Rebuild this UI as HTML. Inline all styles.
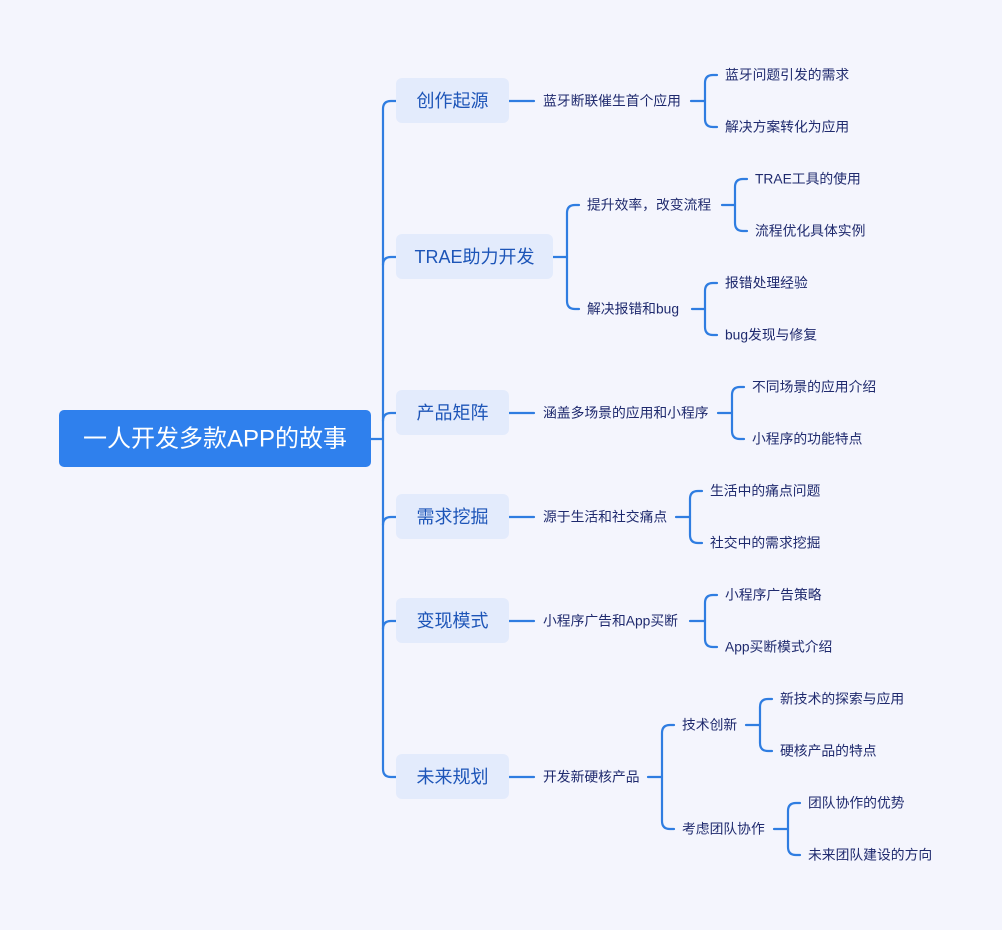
<!DOCTYPE html>
<html><head><meta charset="utf-8"><style>
html,body{margin:0;padding:0;background:#f4f5fd;}
svg{display:block}
text{font-family:"Liberation Sans","Noto Sans CJK SC",sans-serif;}
.s{font-size:13.8px;fill:#1f2a6e;}
.b{font-size:18px;fill:#1d55b8;}
</style></head><body>
<svg width="1002" height="930" viewBox="0 0 1002 930" xmlns="http://www.w3.org/2000/svg">
<rect width="1002" height="930" fill="#f4f5fd"/>
<g fill="none" stroke="#2f7de1" stroke-width="2.2" stroke-linecap="round">
<path d="M371 439 H383"/>
<path d="M396 101 H391 Q383 101 383 109 V769 Q383 777 391 777 H396"/>
<path d="M396 257 H391 Q383 257 383 265"/>
<path d="M396 413 H391 Q383 413 383 421"/>
<path d="M396 517 H391 Q383 517 383 525"/>
<path d="M396 621 H391 Q383 621 383 629"/>
<path d="M509 101 H534"/>
<path d="M691 101 H705"/>
<path d="M717 75 H713 Q705 75 705 83 V119 Q705 127 713 127 H717"/>
<path d="M553 257 H567"/>
<path d="M579 205 H575 Q567 205 567 213 V301 Q567 309 575 309 H579"/>
<path d="M722 205 H735"/>
<path d="M747 179 H743 Q735 179 735 187 V223 Q735 231 743 231 H747"/>
<path d="M692 309 H705"/>
<path d="M717 283 H713 Q705 283 705 291 V327 Q705 335 713 335 H717"/>
<path d="M509 413 H534"/>
<path d="M718 413 H732"/>
<path d="M744 387 H740 Q732 387 732 395 V431 Q732 439 740 439 H744"/>
<path d="M509 517 H534"/>
<path d="M676 517 H690"/>
<path d="M702 491 H698 Q690 491 690 499 V535 Q690 543 698 543 H702"/>
<path d="M509 621 H534"/>
<path d="M690 621 H705"/>
<path d="M717 595 H713 Q705 595 705 603 V639 Q705 647 713 647 H717"/>
<path d="M509 777 H534"/>
<path d="M648 777 H662"/>
<path d="M674 725 H670 Q662 725 662 733 V821 Q662 829 670 829 H674"/>
<path d="M746 725 H760"/>
<path d="M772 699 H768 Q760 699 760 707 V743 Q760 751 768 751 H772"/>
<path d="M774 829 H788"/>
<path d="M800 803 H796 Q788 803 788 811 V847 Q788 855 796 855 H800"/>
</g>
<rect x="59" y="410" width="312" height="57" rx="5" fill="#2f80ed"/>
<text x="215" y="439" text-anchor="middle" dominant-baseline="central" font-size="24" fill="#fff">一人开发多款APP的故事</text>
<g fill="#e3ebfc">
<rect x="396" y="78" width="113" height="45" rx="6"/>
<rect x="396" y="234" width="157" height="45" rx="6"/>
<rect x="396" y="390" width="113" height="45" rx="6"/>
<rect x="396" y="494" width="113" height="45" rx="6"/>
<rect x="396" y="598" width="113" height="45" rx="6"/>
<rect x="396" y="754" width="113" height="45" rx="6"/>
</g>
<g dominant-baseline="central" text-anchor="middle">
<text x="452.5" y="101" class="b">创作起源</text>
<text x="474.5" y="257" class="b">TRAE助力开发</text>
<text x="452.5" y="413" class="b">产品矩阵</text>
<text x="452.5" y="517" class="b">需求挖掘</text>
<text x="452.5" y="621" class="b">变现模式</text>
<text x="452.5" y="777" class="b">未来规划</text>
</g>
<g dominant-baseline="central">
<text x="543" y="101" class="s">蓝牙断联催生首个应用</text>
<text x="725" y="75" class="s">蓝牙问题引发的需求</text>
<text x="725" y="127" class="s">解决方案转化为应用</text>
<text x="587" y="205" class="s">提升效率，改变流程</text>
<text x="755" y="179" class="s">TRAE工具的使用</text>
<text x="755" y="231" class="s">流程优化具体实例</text>
<text x="587" y="309" class="s">解决报错和bug</text>
<text x="725" y="283" class="s">报错处理经验</text>
<text x="725" y="335" class="s">bug发现与修复</text>
<text x="543" y="413" class="s">涵盖多场景的应用和小程序</text>
<text x="752" y="387" class="s">不同场景的应用介绍</text>
<text x="752" y="439" class="s">小程序的功能特点</text>
<text x="543" y="517" class="s">源于生活和社交痛点</text>
<text x="710" y="491" class="s">生活中的痛点问题</text>
<text x="710" y="543" class="s">社交中的需求挖掘</text>
<text x="543" y="621" class="s">小程序广告和App买断</text>
<text x="725" y="595" class="s">小程序广告策略</text>
<text x="725" y="647" class="s">App买断模式介绍</text>
<text x="543" y="777" class="s">开发新硬核产品</text>
<text x="682" y="725" class="s">技术创新</text>
<text x="780" y="699" class="s">新技术的探索与应用</text>
<text x="780" y="751" class="s">硬核产品的特点</text>
<text x="682" y="829" class="s">考虑团队协作</text>
<text x="808" y="803" class="s">团队协作的优势</text>
<text x="808" y="855" class="s">未来团队建设的方向</text>
</g>
</svg>
</body></html>
